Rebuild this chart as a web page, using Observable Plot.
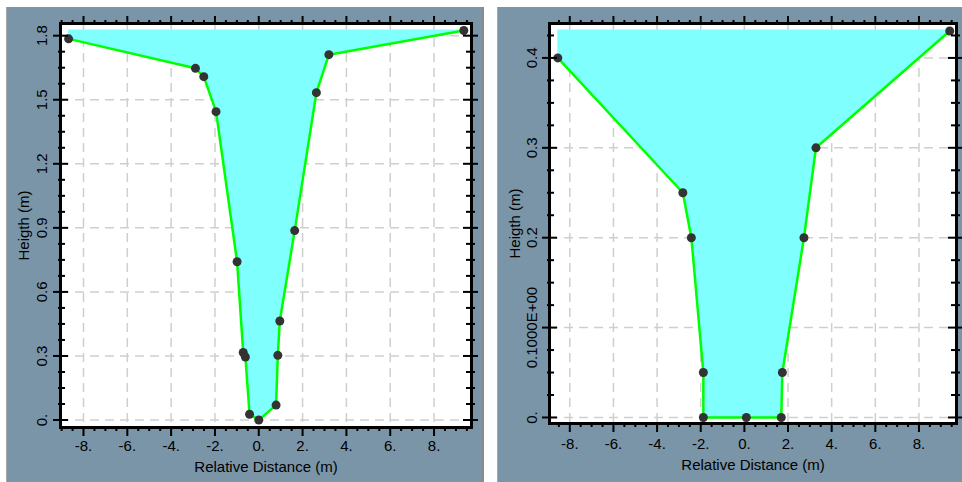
<!DOCTYPE html>
<html>
<head>
<meta charset="utf-8">
<script src="https://cdn.jsdelivr.net/npm/d3@7"></script>
<script src="https://cdn.jsdelivr.net/npm/@observablehq/plot@0.6"></script>
<style>
  html, body { margin: 0; padding: 0; background: #ffffff; width: 962px; height: 482px; overflow: hidden; }
  .panel { position: absolute; top: 7px; height: 475px; background: #7a95a7; }
  #p1 { left: 6px; width: 478px; box-shadow: inset 1px 0 0 #a8a8a8, inset -2px 0 0 #8a8a8a; }
  #p2 { left: 497px; width: 465px; box-shadow: inset 1px 0 0 #a8a8a8; }
  .panel svg { display: block; }
</style>
</head>
<body>
<div id="p1" class="panel"></div>
<div id="p2" class="panel"></div>
<script>
// ---------- data ----------
const xTitle = "Relative Distance (m)";
const yTitle = "Heigth (m)";

const xTickValues = [-8, -6, -4, -2, 0, 2, 4, 6, 8];
const xTickLabels = ["-8.", "-6.", "-4.", "-2.", "0.", "2.", "4.", "6.", "8."];

// Left cross-section
const leftDist   = [-8.68, -2.89, -2.51, -1.95, -0.99, -0.71, -0.61, -0.42, 0.0, 0.79, 0.87, 0.96, 1.64, 2.63, 3.20, 9.36];
const leftHeight = [1.785, 1.647, 1.608, 1.444, 0.741, 0.316, 0.295, 0.027, 0.0, 0.070, 0.303, 0.464, 0.887, 1.533, 1.711, 1.824];
const leftWater  = 1.827;
const leftYTickValues = [0, 0.3, 0.6, 0.9, 1.2, 1.5, 1.8];
const leftYTickLabels = ["0.", "0.3", "0.6", "0.9", "1.2", "1.5", "1.8"];

// Right cross-section
const rightDist   = [-8.55, -2.82, -2.43, -1.88, -1.88, 0.09, 1.69, 1.74, 2.73, 3.28, 9.41];
const rightHeight = [0.40, 0.25, 0.20, 0.05, 0.0, 0.0, 0.0, 0.05, 0.20, 0.30, 0.430];
const rightWater  = 0.431;
const rightYTickValues = [0, 0.1, 0.2, 0.3, 0.4];
const rightYTickLabels = ["0.", "0.1000E+00", "0.2", "0.3", "0.4"];

// ---------- drawing ----------
function minorTicks(step, lo, hi, majors) {
  const out = [];
  for (let i = Math.ceil(lo / step); i * step <= hi; i++) {
    const v = +(i * step).toFixed(6);
    if (!majors.some(m => Math.abs(m - v) < 1e-6)) out.push(v);
  }
  return out;
}

function panel(cfg) {
  const data = cfg.xs.map((x, i) => ({x, y: cfg.ys[i], w: cfg.water}));
  const xMinor = minorTicks(0.5, cfg.xDomain[0], cfg.xDomain[1], cfg.xTicks);
  const yMinor = minorTicks(cfg.yStep, cfg.yDomain[0], cfg.yDomain[1], cfg.yTicks);
  const tickStyle = {fill: "none", stroke: "black", strokeWidth: 2, label: null};
  const grid = {stroke: "#cfcfcf", strokeOpacity: 1, strokeWidth: 1.5, strokeDasharray: "9,6"};
  return Plot.plot({
    width: cfg.width,
    height: 475,
    marginLeft: cfg.m[0], marginRight: cfg.m[1], marginTop: cfg.m[2], marginBottom: cfg.m[3],
    x: {domain: cfg.xDomain},
    y: {domain: cfg.yDomain},
    style: {background: "transparent", fontFamily: "'Liberation Sans', Arial, sans-serif", fontSize: "15px", color: "black", overflow: "visible"},
    marks: [
      Plot.frame({fill: "white", stroke: null}),
      Plot.gridX(cfg.xTicks, grid),
      Plot.gridY(cfg.yTicks, grid),
      Plot.areaY(data, {x: "x", y1: "y", y2: "w", fill: "#80ffff"}),
      Plot.line(data, {x: "x", y: "y", stroke: "#00ff00", strokeWidth: 2.5}),
      Plot.dot(data, {x: "x", y: "y", r: 4.5, fill: "#333333", stroke: null}),
      Plot.frame({stroke: "black", strokeWidth: 3}),
      // x ticks (bottom & top, outward)
      Plot.axisX(cfg.xTicks, {anchor: "bottom", tickSize: 9, ...tickStyle}),
      Plot.axisX(xMinor, {anchor: "bottom", tickSize: 4, ...tickStyle}),
      Plot.axisX(cfg.xTicks, {anchor: "top", tickSize: 8, ...tickStyle}),
      Plot.axisX(xMinor, {anchor: "top", tickSize: 4, ...tickStyle}),
      // y ticks (left & right, crossing the frame)
      Plot.axisY(cfg.yTicks, {anchor: "left", tickSize: 15, dx: 8, ...tickStyle}),
      Plot.axisY(yMinor, {anchor: "left", tickSize: 7, dx: 5, ...tickStyle}),
      Plot.axisY(cfg.yTicks, {anchor: "right", tickSize: 15, dx: -9, ...tickStyle}),
      Plot.axisY(yMinor, {anchor: "right", tickSize: 9, dx: -6, ...tickStyle}),
      // tick labels
      Plot.text(cfg.xTicks, {x: d => d, frameAnchor: "bottom", dy: cfg.xLabDy, text: (d, i) => cfg.xLabels[i], lineAnchor: "middle", fill: "black"}),
      Plot.text(cfg.yTicks, {y: d => d, frameAnchor: "left", dx: cfg.yLabDx, rotate: -90, text: (d, i) => cfg.yLabels[i], textAnchor: "middle", lineAnchor: "middle", fill: "black"}),
      // titles
      Plot.text([xTitle], {frameAnchor: "bottom", dy: cfg.xTitleDy, text: d => d, lineAnchor: "middle", fill: "black"}),
      Plot.text([yTitle], {frameAnchor: "left", dx: cfg.yTitleDx, rotate: -90, text: d => d, textAnchor: "middle", lineAnchor: "middle", fill: "black"})
    ]
  });
}

document.getElementById("p1").append(panel({
  xs: leftDist, ys: leftHeight, water: leftWater,
  xDomain: [-9.05, 9.71], yDomain: [-0.035, 1.857],
  xTicks: xTickValues, xLabels: xTickLabels,
  yTicks: leftYTickValues, yLabels: leftYTickLabels, yStep: 0.075,
  width: 478, m: [54, 13, 16, 55],
  xLabDy: 19, xTitleDy: 40, yLabDx: -18, yTitleDx: -36
}));

document.getElementById("p2").append(panel({
  xs: rightDist, ys: rightHeight, water: rightWater,
  xDomain: [-8.93, 9.72], yDomain: [-0.0067, 0.4383],
  xTicks: xTickValues, xLabels: xTickLabels,
  yTicks: rightYTickValues, yLabels: rightYTickLabels, yStep: 0.025,
  width: 465, m: [52, 6, 16, 59],
  xLabDy: 21, xTitleDy: 42, yLabDx: -17, yTitleDx: -34
}));
</script>
</body>
</html>
